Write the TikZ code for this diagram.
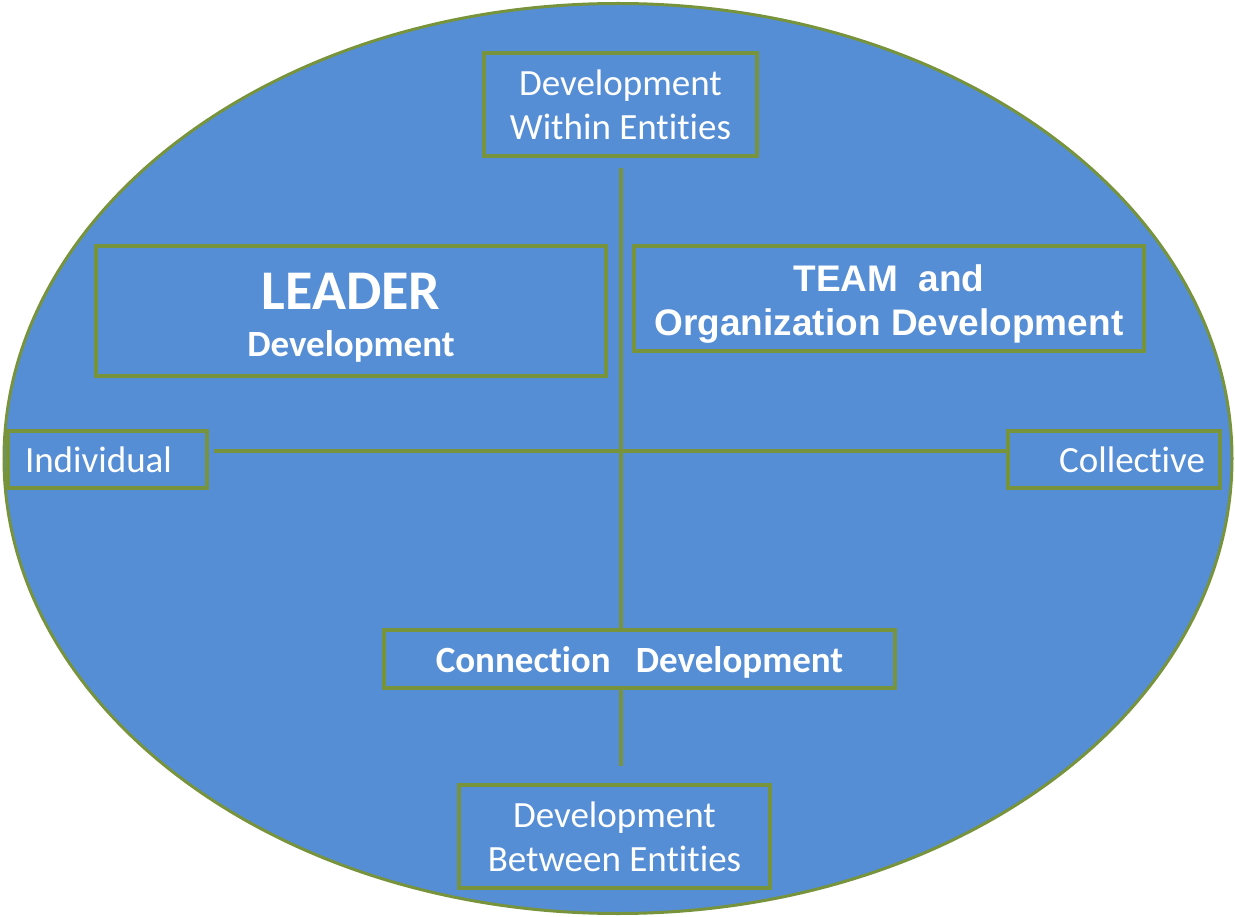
\documentclass[tikz,border=0pt]{standalone}
\usepackage{fontspec}
\setmainfont{Carlito}[RawFeature={-liga;-clig;-calt;-dlig;-rlig;-ccmp}]
\newfontfamily\arialfont{Liberation Sans}
\definecolor{ovalblue}{HTML}{558ED5}
\definecolor{olivegreen}{HTML}{77933C}
\tikzset{
  box/.style={draw=olivegreen, line width=3.5pt, fill=ovalblue, text=white,
    inner sep=0pt, align=center, font=\fontsize{37}{44}\selectfont},
  axis/.style={draw=olivegreen, line width=4pt},
}
\begin{document}
\begin{tikzpicture}[x=1pt,y=-1pt]
  \useasboundingbox (0,0) rectangle (1235,917);
  % the big oval
  \draw[axis, line width=3pt, fill=ovalblue] (618,458.5) ellipse (614pt and 455pt);
  % boxes
  \node[box, minimum width=273pt, minimum height=103pt] (within) at (620.5,104.5)
    {Development\\Within Entities};
  \node[box, minimum width=510pt, minimum height=130pt,
    font=\fontsize{37}{47}\selectfont\bfseries] (leader) at (351,311)
    {\rule{0pt}{50pt}{\fontsize{56}{49}\selectfont LEADER}\\Development};
  \node[box, minimum width=510pt, minimum height=105pt,
    font=\fontsize{37}{44}\selectfont\arialfont\bfseries] (team) at (889,298.5)
    {\rule{0pt}{37pt}TEAM\ \ and\\Organization Development};
  \node[box, minimum height=57pt, inner xsep=17pt, text width=165pt, align=left]
    (indiv) at (107.5,459.5) {Individual};
  \node[box, minimum height=57pt, inner xsep=15pt, text width=182pt, align=right]
    (coll) at (1114,459.5) {Collective};
  \node[box, minimum width=511pt, minimum height=58pt,
    font=\fontsize{37}{44}\selectfont\bfseries] (conn) at (639.5,659)
    {\rule{0pt}{32pt}Connection\ \ \ Development};
  \node[box, minimum width=311pt, minimum height=103pt] (between) at (614.5,836.5)
    {Development\\Between Entities};
  % axes
  \draw[axis] ([yshift=-10pt]within.south) -- (within.south |- conn.north);
  \draw[axis] ([shift={(5pt,8.5pt)}]indiv.east) -- ([yshift=8.5pt]coll.west);
  \draw[axis] (within.south |- conn.south) -- ++(0,76);
\end{tikzpicture}
\end{document}
